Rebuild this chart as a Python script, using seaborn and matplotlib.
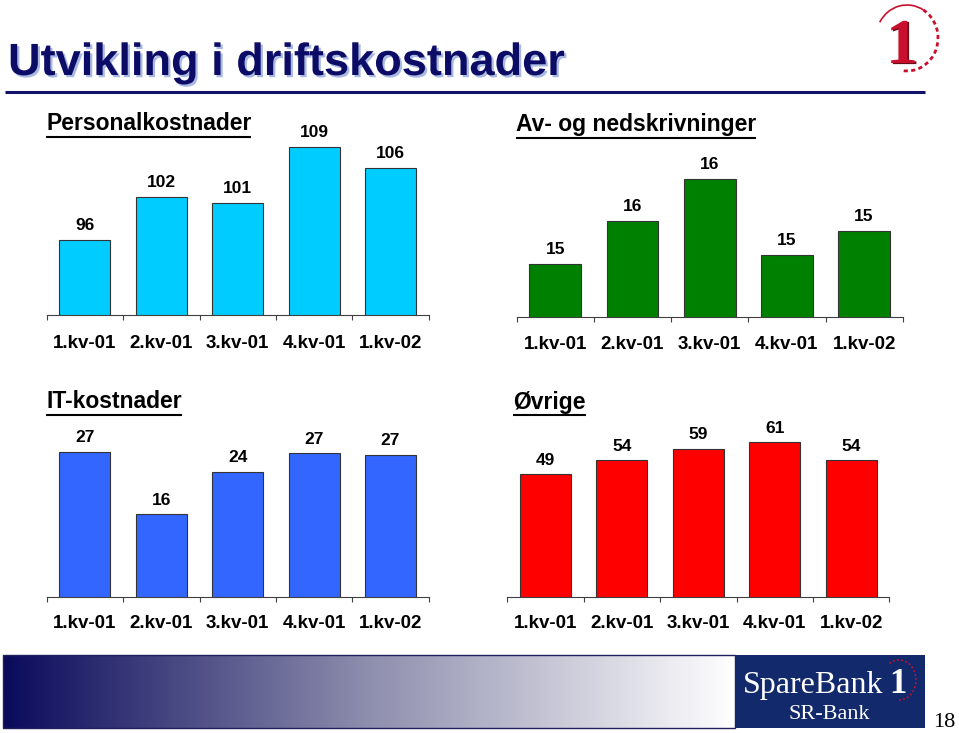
import numpy as np
import pandas as pd
import matplotlib
matplotlib.use("Agg")
import matplotlib.pyplot as plt
import matplotlib.patheffects as pe
from matplotlib.patches import Rectangle, Arc
from matplotlib.colors import LinearSegmentedColormap
import seaborn as sns

# ---------------- data ----------------
categories = ["1.kv-01", "2.kv-01", "3.kv-01", "4.kv-01", "1.kv-02"]

personal_values = [96.0, 102.0, 101.2, 109.0, 106.0]
personal_labels = ["96", "102", "101", "109", "106"]

avskr_values = [14.65, 15.55, 16.42, 14.84, 15.34]
avskr_labels = ["15", "16", "16", "15", "15"]

it_values = [27.1, 16.0, 23.6, 26.9, 26.6]
it_labels = ["27", "16", "24", "27", "27"]

ovrige_values = [49.0, 54.2, 58.6, 61.0, 54.2]
ovrige_labels = ["49", "54", "59", "61", "54"]

panel_titles = ["Personalkostnader", "Av- og nedskrivninger", "IT-kostnader", "Øvrige"]
main_title = "Utvikling i driftskostnader"

# ---------------- style ----------------
sns.set_theme(style="white")
plt.rcParams["font.family"] = ["Liberation Sans", "DejaVu Sans"]

W, H = 959, 733
fig = plt.figure(figsize=(W / 100, H / 100), dpi=100)
fig.patch.set_facecolor("white")

# overlay axes in pixel coordinates (y downwards) for decoration text
ov = fig.add_axes([0, 0, 1, 1])
ov.set_zorder(-1)
ov.axis("off")

panels = [
    dict(values=personal_values, labels=personal_labels, title=panel_titles[0],
         color="#00CCFF", x0=46.7, x1=428.7, base=315.0, top=140.0,
         ymin=85.55, scale=7.18, tx=46, tbase=130, pad=14.5),
    dict(values=avskr_values, labels=avskr_labels, title=panel_titles[1],
         color="#008000", x0=516.7, x1=902.7, base=316.7, top=140.0,
         ymin=13.55, scale=48.0, tx=516, tbase=131, pad=14.0),
    dict(values=it_values, labels=it_labels, title=panel_titles[2],
         color="#3366FF", x0=46.7, x1=428.7, base=596.7, top=430.0,
         ymin=1.3, scale=5.6, tx=46, tbase=408.5, pad=13.5),
    dict(values=ovrige_values, labels=ovrige_labels, title=panel_titles[3],
         color="#FF0000", x0=507.3, x1=889.3, base=596.7, top=430.0,
         ymin=3.1, scale=2.667, tx=513, tbase=408.5, pad=13.5),
]

axis_col = "#404040"
renderer = fig.canvas.get_renderer()

for p in panels:
    ax = fig.add_axes([p["x0"] / W, 1 - p["base"] / H,
                       (p["x1"] - p["x0"]) / W, (p["base"] - p["top"]) / H])
    ax.patch.set_alpha(0)
    df = pd.DataFrame({"kvartal": categories, "verdi": p["values"]})
    sns.barplot(data=df, x="kvartal", y="verdi", color=p["color"], saturation=1,
                width=0.67, edgecolor="#333333", linewidth=0.8, ax=ax)
    ax.set_xlim(-0.5, len(categories) - 0.5)
    ax.set_ylim(p["ymin"], p["ymin"] + (p["base"] - p["top"]) / p["scale"])
    for s in ["top", "right", "left"]:
        ax.spines[s].set_visible(False)
    ax.spines["bottom"].set_color(axis_col)
    ax.spines["bottom"].set_linewidth(0.8)
    ax.set_yticks([])
    ax.set_xlabel("")
    ax.set_ylabel("")
    ax.set_xticks(range(len(categories)))
    ax.set_xticklabels(categories, fontsize=13.5, fontweight="bold", color="black")
    ax.tick_params(axis="x", which="major", length=0, pad=p["pad"])
    ax.set_xticks(np.arange(-0.5, len(categories), 1.0), minor=True)
    ax.tick_params(axis="x", which="minor", length=3.6, width=0.8,
                   direction="out", color=axis_col, bottom=True)
    for i, (v, lab) in enumerate(zip(p["values"], p["labels"])):
        ax.annotate(lab, (i, v), xytext=(0, 7), textcoords="offset points",
                    ha="center", va="baseline", fontsize=12.5, fontweight="bold",
                    color="black")

    # panel title with underline
    t = ov.text(p["tx"], p["tbase"], p["title"], fontsize=16.5, fontweight="bold",
                ha="left", va="baseline", color="black")
    ov.set_xlim(0, W)
    ov.set_ylim(H, 0)
    bb = t.get_window_extent(renderer)
    ov.plot([bb.x0, bb.x1], [p["tbase"] + 6.5] * 2, color="black", lw=1.5,
            solid_capstyle="butt")

# main title
ov.text(8, 75, main_title, fontsize=32.5, fontweight="bold", color="#0c0c66",
        ha="left", va="baseline",
        path_effects=[pe.SimplePatchShadow(offset=(1.6, -1.6),
                                           shadow_rgbFace="#a9b9e2", alpha=1.0),
                      pe.Normal()])
ov.plot([5, 925], [92, 92], color="#12126a", lw=2.2, solid_capstyle="butt")

# top-right logo
red = "#c8102e"
ov.text(902, 63, "1", fontfamily="Liberation Serif", fontweight="bold",
        fontsize=46, color=red, ha="center", va="baseline",
        path_effects=[pe.SimplePatchShadow(offset=(1.2, -0.8),
                                           shadow_rgbFace="#6b0d18", alpha=1.0),
                      pe.Normal()])
ov.add_patch(Arc((907, 38), 62, 66, theta1=-150, theta2=-60, color=red, lw=1.2))
ov.add_patch(Arc((907, 38), 62, 66, theta1=-60, theta2=100, color=red, lw=2.0,
                 linestyle=(0, (1.5, 1.2))))

# bottom banner gradient
cmap = LinearSegmentedColormap.from_list("band", ["#0a0a5c", "#8e8eae", "#ffffff"])
grad = np.linspace(0, 1, 512).reshape(1, -1)
ov.imshow(grad, extent=[3, 735, 728, 655], aspect="auto", cmap=cmap,
          interpolation="bilinear")
ov.add_patch(Rectangle((3, 655), 732, 73, fill=False, ec="#20205a", lw=1.0))

# SpareBank 1 box
ov.add_patch(Rectangle((735, 655), 190, 73, fc="#12296b", ec="none"))
ov.text(743, 693, "SpareBank", fontfamily="Liberation Serif", fontsize=23,
        color="white", ha="left", va="baseline")
ov.text(898, 693, "1", fontfamily="Liberation Serif", fontweight="bold",
        fontsize=25, color="white", ha="center", va="baseline")
ov.add_patch(Arc((899, 680), 34, 40, theta1=-120, theta2=90, color=red, lw=1.0,
                 linestyle=(0, (1.5, 1.5))))
ov.text(829, 719, "SR-Bank", fontfamily="Liberation Serif", fontsize=16,
        color="white", ha="center", va="baseline")

# page number
ov.text(944, 727, "18", fontfamily="Liberation Serif", fontsize=16,
        color="black", ha="center", va="baseline")

ov.set_xlim(0, W)
ov.set_ylim(H, 0)

fig.savefig("out.png", dpi=100)
